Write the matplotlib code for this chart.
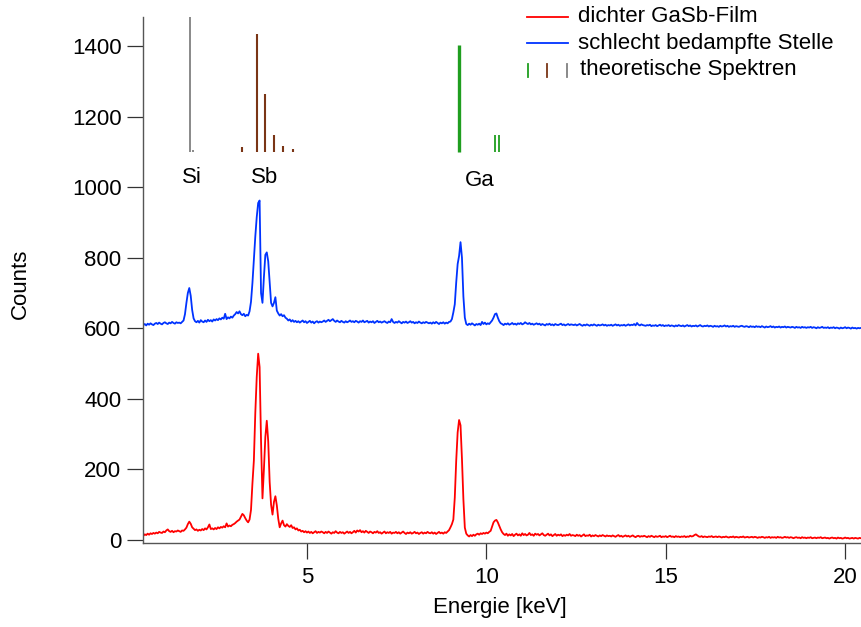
import numpy as np
import matplotlib
matplotlib.use("Agg")
import matplotlib.pyplot as plt
from matplotlib.lines import Line2D

plt.rcParams['font.family'] = ['Liberation Sans', 'DejaVu Sans']

# Detector channel grid: first channel energy and channel width in keV
E_START = 0.44
E_STEP = 0.04

# Counts of the dense GaSb film, one row per keV (25 channels per row)
counts_film = [
    12, 16, 14, 18, 15, 19, 17, 20, 18, 21, 19, 23, 21, 20, 24, 22, 27, 30, 25, 23, 26, 22, 25, 24, 27,
    25, 23, 27, 26, 30, 35, 45, 52, 46, 36, 32, 28, 30, 26, 29, 27, 31, 28, 33, 30, 36, 44, 31, 33, 30,
    34, 31, 36, 33, 37, 35, 39, 36, 47, 38, 41, 39, 43, 45, 48, 52, 55, 58, 66, 74, 70, 62, 55, 50, 58,
    85, 160, 225, 360, 462, 528, 490, 280, 118, 200, 292, 338, 280, 165, 100, 72, 108, 124, 98, 60, 36, 47, 55, 42, 38,
    45, 40, 37, 42, 34, 36, 30, 33, 27, 29, 24, 26, 22, 25, 21, 24, 20, 23, 19, 22, 25, 20, 23, 21, 24,
    22, 19, 23, 20, 24, 21, 18, 22, 20, 25, 21, 19, 23, 20, 22, 18, 21, 24, 20, 23, 19, 22, 26, 21, 27,
    24, 28, 22, 25, 21, 26, 23, 20, 24, 22, 19, 23, 21, 25, 20, 22, 18, 21, 24, 19, 22, 20, 23, 18, 21,
    20, 23, 19, 22, 18, 21, 24, 20, 17, 21, 19, 22, 18, 20, 23, 19, 21, 17, 20, 22, 18, 21, 19, 23, 20,
    19, 22, 18, 21, 17, 20, 23, 19, 21, 18, 22, 20, 24, 28, 36, 45, 58, 120, 225, 305, 340, 325, 230, 115, 35,
    18, 13, 10, 14, 11, 15, 12, 16, 18, 15, 19, 17, 20, 18, 21, 19, 23, 26, 38, 50, 55, 57, 50, 40, 30,
    22, 17, 14, 18, 12, 16, 13, 17, 11, 15, 18, 13, 16, 12, 19, 14, 17, 13, 15, 20, 14, 16, 12, 18, 15,
    17, 13, 16, 19, 14, 12, 15, 18, 13, 16, 11, 14, 17, 12, 15, 13, 16, 11, 14, 12, 15, 13, 17, 12, 14,
    13, 11, 15, 12, 14, 10, 13, 16, 11, 13, 12, 15, 10, 13, 11, 14, 12, 10, 13, 11, 14, 12, 10, 13, 11,
    12, 10, 13, 11, 9, 12, 14, 10, 12, 9, 11, 13, 10, 12, 9, 11, 13, 10, 8, 11, 12, 9, 11, 10, 12,
    10, 8, 11, 9, 12, 10, 8, 11, 9, 10, 12, 8, 10, 9, 11, 8, 10, 12, 9, 10, 8, 11, 9, 10, 8,
    10, 9, 11, 8, 10, 9, 12, 10, 11, 14, 16, 13, 10, 9, 11, 8, 10, 9, 8, 10, 9, 11, 8, 9, 10,
    8, 10, 9, 7, 9, 8, 10, 8, 7, 9, 8, 10, 7, 9, 8, 7, 9, 8, 10, 7, 8, 9, 7, 8, 9,
    7, 9, 8, 6, 8, 7, 9, 8, 6, 8, 7, 9, 6, 8, 7, 8, 6, 9, 7, 8, 6, 7, 9, 7, 8,
    6, 8, 7, 5, 7, 8, 6, 7, 5, 8, 6, 7, 5, 7, 6, 8, 5, 6, 7, 5, 7, 6, 8, 5, 6,
    7, 5, 6, 4, 6, 7, 5, 6, 4, 7, 5, 6, 4, 5, 7, 5, 6, 4, 5, 6, 4, 6, 5, 4, 6,
    5, 4,
]

# Counts of the poorly coated spot (same channel grid)
counts_spot = [
    609, 612, 608, 613, 610, 614, 611, 609, 613, 615, 612, 616, 613, 611, 615, 617, 614, 612, 616, 614, 618, 615, 613, 617, 615,
    616, 614, 618, 622, 640, 672, 700, 714, 692, 652, 628, 620, 617, 621, 616, 623, 619, 617, 622, 618, 624, 620, 623, 619, 625,
    622, 626, 623, 628, 625, 630, 627, 641, 626, 631, 628, 633, 630, 636, 640, 646, 642, 648, 640, 637, 641, 634, 638, 636, 648,
    675, 728, 795, 860, 915, 955, 962, 700, 672, 745, 808, 815, 790, 730, 672, 662, 672, 688, 650, 642, 636, 640, 634, 637, 630,
    627, 622, 625, 619, 623, 618, 621, 617, 620, 616, 619, 622, 617, 620, 615, 618, 621, 616, 619, 614, 618, 620, 616, 619, 617,
    619, 622, 618, 621, 624, 620, 623, 626, 621, 618, 622, 619, 617, 621, 618, 616, 620, 617, 619, 622, 618, 620, 617, 621, 619,
    616, 620, 618, 622, 617, 619, 621, 616, 619, 617, 620, 615, 618, 621, 617, 619, 616, 618, 620, 617, 615, 619, 617, 626, 618,
    615, 618, 616, 620, 617, 614, 618, 616, 619, 615, 617, 620, 616, 618, 614, 617, 615, 619, 616, 614, 617, 615, 618, 616, 614,
    616, 613, 617, 614, 618, 615, 612, 616, 614, 617, 613, 616, 614, 618, 619, 626, 645, 668, 730, 782, 805, 844, 800, 690, 630,
    612, 609, 613, 610, 614, 611, 608, 612, 610, 613, 609, 618, 612, 616, 611, 614, 612, 617, 622, 630, 640, 642, 630, 620, 614,
    612, 609, 613, 611, 614, 610, 612, 615, 611, 613, 610, 614, 612, 615, 611, 613, 617, 614, 612, 615, 611, 613, 610, 612, 614,
    611, 613, 609, 612, 610, 608, 612, 610, 613, 609, 611, 608, 612, 610, 609, 611, 613, 609, 611, 608, 610, 612, 609, 611, 610,
    609, 611, 608, 610, 612, 609, 607, 610, 608, 611, 609, 607, 610, 608, 611, 609, 607, 610, 608, 609, 611, 608, 610, 607, 609,
    608, 610, 607, 609, 611, 608, 610, 607, 609, 608, 610, 607, 609, 611, 608, 610, 609, 612, 608, 615, 610, 608, 611, 609, 608,
    607, 609, 608, 610, 606, 608, 607, 609, 606, 608, 610, 607, 609, 606, 608, 607, 609, 606, 608, 607, 605, 608, 606, 609, 607,
    606, 608, 605, 607, 609, 606, 608, 605, 607, 606, 608, 605, 607, 609, 606, 605, 607, 606, 608, 605, 607, 606, 604, 607, 605,
    606, 604, 607, 605, 606, 608, 605, 607, 604, 606, 605, 607, 604, 606, 605, 604, 606, 607, 605, 604, 606, 605, 603, 606, 604,
    605, 603, 606, 604, 605, 603, 606, 604, 602, 605, 603, 604, 606, 603, 605, 602, 604, 603, 605, 602, 604, 603, 605, 602, 604,
    603, 602, 604, 603, 601, 604, 602, 603, 601, 604, 602, 603, 601, 603, 602, 604, 601, 603, 602, 600, 603, 601, 602, 604, 601,
    602, 601, 603, 600, 602, 601, 603, 600, 602, 601, 599, 602, 600, 601, 603, 600, 602, 601, 599, 602, 600, 601, 599, 601, 600,
    601, 600,
]

# Theoretical emission lines (keV, relative height drawn above a common base)
LINE_BASE = 1100
si_lines_keV = [1.74, 1.82]
si_lines_top = [1482, 1104]
sb_lines_keV = [3.18, 3.60, 3.84, 4.09, 4.34, 4.60]
sb_lines_top = [1113, 1433, 1263, 1148, 1117, 1108]
ga_main_keV = [9.24]
ga_main_top = [1403]
ga_lines_keV = [10.24, 10.35]
ga_lines_top = [1148, 1148]

element_labels = ["Si", "Sb", "Ga"]
element_label_keV = [1.79, 3.83, 9.82]
element_label_y = [1026, 1026, 1020]

RED = "#ff0000"
BLUE = "#0033ff"
GREEN = "#1f9e1f"
BROWN = "#7a3516"
GREY = "#808080"
FS = 16
SPEC_LW = 1.3

energy = E_START + E_STEP * np.arange(len(counts_film))

fig = plt.figure(figsize=(8.62, 6.27), dpi=100)
ax_l, ax_b = 143 / 862, 1 - 543 / 627
ax_w, ax_h = 1 - 143 / 862, (543 - 17) / 627
ax = fig.add_axes([ax_l, ax_b, ax_w, ax_h])

ax.plot(energy, counts_film, color=RED, lw=SPEC_LW)
ax.plot(energy, counts_spot, color=BLUE, lw=SPEC_LW)

ax.vlines(si_lines_keV, LINE_BASE, si_lines_top, color=GREY, lw=1.3)
ax.vlines(sb_lines_keV, LINE_BASE, sb_lines_top, color=BROWN, lw=1.5)
ax.vlines(ga_main_keV, LINE_BASE, ga_main_top, color=GREEN, lw=2.4)
ax.vlines(ga_lines_keV, LINE_BASE, ga_lines_top, color=GREEN, lw=1.3)

for name, ex, ey in zip(element_labels, element_label_keV, element_label_y):
    ax.text(ex, ey, name, ha="center", va="center", fontsize=FS)

ax.set_xlim(0.43, 20.47)
ax.set_ylim(-8.5, 1482)
ax.set_xticks([5, 10, 15, 20])
ax.set_yticks([0, 200, 400, 600, 800, 1000, 1200, 1400])
ax.tick_params(direction="out", length=11.5, width=0.9, color="#333333",
               labelsize=FS)
ax.tick_params(axis="x", pad=6)
ax.tick_params(axis="y", pad=4)
for side in ("top", "right"):
    ax.spines[side].set_visible(False)
for side in ("left", "bottom"):
    ax.spines[side].set_color("#555555")
    ax.spines[side].set_linewidth(1.0)

ax.set_xlabel("Energie [keV]", fontsize=FS, va="center")
ax.set_ylabel("Counts", fontsize=FS, va="center")
ax.xaxis.set_label_coords((500 - 143) / 719, (543 - 607) / 526)
ax.yaxis.set_label_coords((20 - 143) / 719, (543 - 284) / 526)

# Legend drawn in figure pixel coordinates
W, H = 862, 627
def fx(px):
    return px / W
def fy(py):
    return 1 - py / H

fig.add_artist(Line2D([fx(527), fx(568)], [fy(17), fy(17)], color=RED, lw=SPEC_LW))
fig.add_artist(Line2D([fx(527), fx(568)], [fy(43), fy(43)], color=BLUE, lw=SPEC_LW))
for px, col in zip([527.5, 547, 567], [GREEN, BROWN, GREY]):
    fig.add_artist(Line2D([fx(px), fx(px)], [fy(64), fy(77)], color=col, lw=1.3))
fig.text(fx(578), fy(17), "dichter GaSb-Film", fontsize=FS, va="center")
fig.text(fx(578), fy(43), "schlecht bedampfte Stelle", fontsize=FS, va="center")
fig.text(fx(580), fy(70), "theoretische Spektren", fontsize=FS, va="center")

fig.savefig("out.png", dpi=100)
